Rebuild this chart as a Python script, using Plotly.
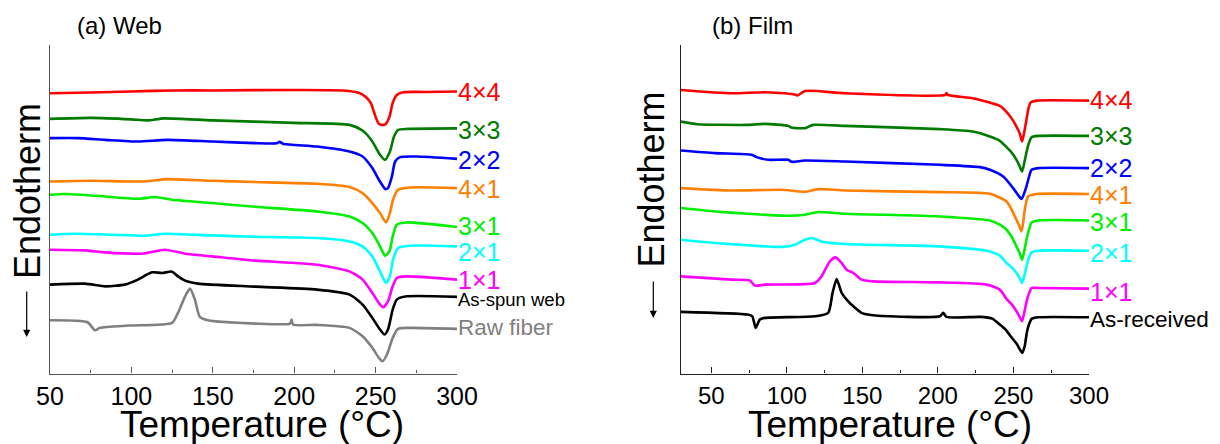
import plotly.graph_objects as go

# ---------------- (a) Web : DSC curves (heat flow, arbitrary offset units) ----------------
web_4x4_T = [50, 75, 100, 125, 150, 200, 230, 240, 244, 247, 250, 252, 254, 256, 258.5, 260.5, 263, 267, 280, 300]
web_4x4_Q = [280.7, 281.5, 282.5, 283.5, 283.5, 284, 283.5, 281, 277, 271, 257, 250, 249, 249.5, 257, 271, 279, 281.7, 282, 282.5]

web_3x3_T = [50, 75, 100, 110, 120, 150, 200, 234, 242, 248, 252.7, 255.8, 258.8, 261.3, 263.8, 270, 300]
web_3x3_Q = [255, 256, 254.5, 253.5, 255.5, 253.5, 251, 249, 243.3, 232.3, 219, 214, 222.3, 237.3, 244, 245, 245.5]

web_2x2_T = [50, 67, 84, 104, 122, 150, 176, 189, 191, 193, 214, 234, 242, 248, 252, 256, 257.6, 260, 262, 265, 275, 300]
web_2x2_Q = [235.7, 235.7, 234, 232.3, 234, 232.3, 230.7, 230.5, 232, 230.2, 227.3, 222.3, 217.3, 205.7, 194, 184.7, 185.7, 197.3, 212.3, 216.7, 217.3, 215]

web_4x1_T = [50, 75, 108, 122, 150, 176, 214, 234, 242, 248, 252.7, 256.4, 258.8, 260.7, 263.8, 271, 300]
web_4x1_Q = [192.3, 193, 192.3, 194.7, 193, 191.8, 190, 186.7, 180.7, 170.7, 160.7, 151.3, 160.7, 174, 184, 186.3, 185.7]

web_3x1_T = [50, 59, 77.6, 104, 114.5, 125, 149.5, 176, 214, 234, 242, 248, 252.7, 255.8, 258.5, 260.5, 263, 269, 300]
web_3x1_Q = [179, 179.7, 178, 175, 176.7, 174, 170.7, 167, 162.3, 157.3, 150.7, 140.7, 127.3, 118, 122.3, 137.3, 149, 151.3, 146.7]

web_2x1_T = [50, 65, 88, 108, 120.6, 149.5, 176, 214, 234, 242, 248, 252.7, 256.4, 258.8, 260.7, 263.8, 271, 300]
web_2x1_Q = [139, 140, 139, 138, 140, 138.3, 137, 135.7, 132.3, 127.3, 117.3, 102.3, 90.7, 97.3, 114, 125.7, 128, 127.3]

web_1x1_T = [50, 71.5, 84, 106.5, 120.6, 133, 149.5, 176, 214, 234, 242, 248, 252, 254.6, 257.6, 260.5, 263, 269, 300]
web_1x1_Q = [124, 123.3, 121.3, 120, 124, 120, 117.3, 113, 109, 102.3, 94, 80.7, 70.7, 66.3, 72.3, 87.3, 95.7, 97.3, 94]

web_asspun_T = [50, 71.5, 84, 96, 104, 112.6, 118.8, 125, 128.6, 133, 141, 176, 214, 234, 242, 248, 252.7, 255.5, 257.6, 260.5, 263, 269, 300]
web_asspun_Q = [89, 90, 87.3, 89, 94, 101.3, 100.7, 102, 97.3, 93, 90, 87, 84, 79, 69, 55.7, 44, 39, 44, 64, 74, 77.3, 76.7]

web_raw_T = [50, 73, 77.6, 80.7, 98, 125, 128.6, 133, 136, 139, 142, 147, 176, 197.4, 198.4, 199.3, 214, 234, 242, 248, 252, 254.3, 257, 260.5, 263.8, 271, 300]
web_raw_Q = [53.3, 51.3, 43.3, 45.7, 48, 50.7, 60.7, 77.3, 85, 74, 56.7, 53.3, 50, 50, 54, 49, 48.7, 45.7, 37.3, 25.7, 15.7, 12.3, 19, 35.7, 44.7, 45.7, 44.7]

web_names = ["4×4", "3×3", "2×2", "4×1", "3×1", "2×1", "1×1", "As-spun web", "Raw fiber"]
web_label_Q = [282, 244, 214, 185, 148, 122, 93.5, 74, 46]

# ---------------- (b) Film ----------------
film_4x4_T = [30, 63.5, 85.6, 104.3, 107.2, 112, 138.5, 205, 205.7, 206.5, 223, 234.4, 241, 245.4, 249, 252, 254.3, 255.7, 257.2, 258.6, 260, 261.5, 265.3, 300]
film_4x4_Q = [284, 280.7, 281.7, 279.7, 278.5, 283, 280.7, 279, 281, 279, 275.7, 271.3, 268, 262, 255, 247.3, 240, 232.3, 242, 254, 266, 271.5, 273.3, 273.3]

film_3x3_T = [30, 41, 74, 85.6, 101, 103, 112, 117.5, 138.5, 201.3, 223, 234.4, 241, 245.4, 249, 252, 254, 255.7, 257.3, 259, 260.5, 262, 266.4, 300]
film_3x3_Q = [252.3, 249.7, 249, 250, 248, 246.3, 245.7, 249, 248, 244.7, 242.3, 237.3, 233, 226.7, 221, 214, 208, 202.3, 212, 224, 232, 236.7, 238, 238]

film_2x2_T = [30, 52.5, 76.8, 80, 87.7, 101, 103.2, 112, 138.5, 201.3, 227.8, 234.4, 243.2, 249.8, 252.5, 255.3, 257, 258.6, 260.3, 262, 266.4, 300]
film_2x2_Q = [223.3, 220.7, 219, 216.7, 214, 214, 212, 213.3, 212.3, 209, 206.7, 204, 197.3, 185.7, 180, 174.7, 180, 187.3, 197, 204, 205.7, 205.7]

film_4x1_T = [30, 63.5, 96.6, 112, 120.8, 138.5, 201.3, 234.4, 245.4, 248.5, 250.9, 253.3, 255.3, 256.5, 257.5, 259.7, 265.3, 300]
film_4x1_Q = [185.7, 183.3, 184, 182, 184.7, 183.3, 181.7, 180, 172.3, 165, 157.3, 150, 142.3, 152, 164, 177.3, 179.7, 179.7]

film_3x1_T = [30, 52.5, 74, 101, 112, 120.8, 138.5, 201.3, 234.4, 241, 245.4, 249, 252, 254, 255.7, 257.2, 258.6, 260.3, 262, 266.4, 300]
film_3x1_Q = [165.7, 162.3, 160, 158, 159, 161.7, 160, 157.3, 153.3, 149, 144, 136.5, 127.3, 121, 114, 123, 134, 144, 151.3, 153.3, 153.3]

film_2x1_T = [30, 52.5, 85.6, 96.6, 105.4, 112, 116.4, 123, 138.5, 201.3, 234.4, 241, 245.4, 249, 252, 254, 255.7, 257.2, 258.6, 260.3, 262, 266.4, 300]
film_2x1_Q = [134, 130.7, 127.3, 126.7, 129, 134, 135.7, 132.3, 129.7, 127.3, 122.3, 118, 110.7, 106, 100.7, 96, 90.7, 98, 107.3, 116, 121.3, 123, 123]

film_1x1_T = [30, 63.5, 75.6, 78.9, 85.6, 118.6, 123, 128.5, 132.3, 136.3, 139.6, 144, 149.5, 157.2, 201.3, 232.2, 241, 245.4, 249, 252, 254, 255.7, 257.3, 259, 260.5, 262, 266.4, 300]
film_1x1_Q = [97.3, 94, 93, 88, 89, 90.7, 97.3, 112.3, 116.3, 110.7, 104, 100.7, 94, 92.3, 91.3, 89, 84, 74.7, 69, 62.3, 57, 52.3, 62, 74, 81, 85.7, 85.7, 85]

film_asrec_T = [30, 74, 77.2, 79.4, 82.2, 85.6, 118.6, 127.4, 130.3, 133, 136.3, 139.6, 144, 149.5, 157.2, 201.3, 203.5, 205.7, 227.8, 236, 241, 245.4, 248, 252, 254.3, 255.8, 257.4, 259, 260.5, 262, 266.4, 300]
film_asrec_Q = [61.7, 59, 57.3, 45.7, 54, 55.7, 57.3, 60.7, 80.7, 94.7, 80.7, 74, 67.3, 60.7, 58.3, 57.3, 60.7, 56.7, 56.7, 55, 49, 43, 37.5, 30, 24, 20.5, 27, 42, 50, 54.7, 56.3, 56.3]

film_names = ["4×4", "3×3", "2×2", "4×1", "3×1", "2×1", "1×1", "As-received"]
film_label_Q = [273.5, 238, 205.5, 179, 151.5, 120.5, 82, 54]

web_colors = ["#ff0000", "#007a00", "#0000ff", "#ff8000", "#00ee00", "#00ffff", "#ff00ff", "#000000", "#808080"]
film_colors = ["#ff0000", "#007a00", "#0000ff", "#ff8000", "#00ee00", "#00ffff", "#ff00ff", "#000000"]

web_series = [(web_4x4_T, web_4x4_Q), (web_3x3_T, web_3x3_Q), (web_2x2_T, web_2x2_Q),
              (web_4x1_T, web_4x1_Q), (web_3x1_T, web_3x1_Q), (web_2x1_T, web_2x1_Q),
              (web_1x1_T, web_1x1_Q), (web_asspun_T, web_asspun_Q), (web_raw_T, web_raw_Q)]
film_series = [(film_4x4_T, film_4x4_Q), (film_3x3_T, film_3x3_Q), (film_2x2_T, film_2x2_Q),
               (film_4x1_T, film_4x1_Q), (film_3x1_T, film_3x1_Q), (film_2x1_T, film_2x1_Q),
               (film_1x1_T, film_1x1_Q), (film_asrec_T, film_asrec_Q)]

FONT = "Liberation Sans, Arial, Helvetica, sans-serif"
W, H = 1220, 444


def px(xp):
    return xp / W


def py(yp):
    return (H - yp) / H


fig = go.Figure()

for (T, Q), name, c in zip(web_series, web_names, web_colors):
    fig.add_trace(go.Scatter(x=T, y=Q, mode="lines", name=name, xaxis="x", yaxis="y",
                             line=dict(color=c, width=2.6, shape="spline", smoothing=0.6),
                             showlegend=False, hoverinfo="skip"))
for (T, Q), name, c in zip(film_series, film_names, film_colors):
    fig.add_trace(go.Scatter(x=T, y=Q, mode="lines", name=name, xaxis="x2", yaxis="y2",
                             line=dict(color=c, width=2.6, shape="spline", smoothing=0.6),
                             showlegend=False, hoverinfo="skip"))

annotations = []
web_label_sizes = [25, 25, 25, 25, 25, 25, 25, 18.5, 22.5]
for name, c, q, s in zip(web_names, web_colors, web_label_Q, web_label_sizes):
    annotations.append(dict(x=300, y=q, xref="x", yref="y", text=name, showarrow=False,
                            xanchor="left", yanchor="middle", xshift=-1,
                            font=dict(family=FONT, size=s, color=c)))
film_label_sizes = [25, 25, 25, 25, 25, 25, 25, 22.5]
for name, c, q, s in zip(film_names, film_colors, film_label_Q, film_label_sizes):
    annotations.append(dict(x=300, y=q, xref="x2", yref="y2", text=name, showarrow=False,
                            xanchor="left", yanchor="middle", xshift=-1,
                            font=dict(family=FONT, size=s, color=c)))

# panel titles
annotations.append(dict(x=px(119), y=py(26), xref="paper", yref="paper", text="(a) Web",
                        showarrow=False, xanchor="center", yanchor="middle",
                        font=dict(family=FONT, size=24, color="black")))
annotations.append(dict(x=px(752), y=py(26), xref="paper", yref="paper", text="(b) Film",
                        showarrow=False, xanchor="center", yanchor="middle",
                        font=dict(family=FONT, size=24, color="black")))
# x-axis titles
for cx in (262, 890):
    annotations.append(dict(x=px(cx), y=py(424), xref="paper", yref="paper",
                            text="Temperature (°C)", showarrow=False,
                            xanchor="center", yanchor="middle",
                            font=dict(family=FONT, size=37, color="black")))
# y-axis titles
for cx, cy in ((27.5, 191.5), (651.5, 180)):
    annotations.append(dict(x=px(cx), y=py(cy), xref="paper", yref="paper",
                            text="Endotherm", textangle=-90, showarrow=False,
                            xanchor="center", yanchor="middle",
                            font=dict(family=FONT, size=36, color="black")))
# downward arrows
for ax_, y0, y1 in ((26.7, 290, 337), (653.3, 280, 318)):
    annotations.append(dict(x=px(ax_), y=py(y1), xref="paper", yref="paper",
                            ax=0, ay=-(y1 - y0),
                            text="", showarrow=True, arrowhead=2, arrowsize=1.2,
                            arrowwidth=1.2, arrowcolor="black"))

xaxis_common = dict(showgrid=False, zeroline=False, showline=True, linewidth=1.4,
                    ticks="inside", ticklen=6, tickwidth=1.2, dtick=50, tick0=0,
                    minor=dict(ticks="inside", ticklen=3, tickwidth=1.1, dtick=25, tick0=0,
                               showgrid=False),
                    ticklabelstandoff=0, automargin=False)

yaxis_common = dict(showgrid=False, zeroline=False, showline=True, linewidth=1.4,
                    showticklabels=False, ticks="", range=[0, 329], automargin=False,
                    domain=[py(373.5), py(45)])

fig.update_layout(
    width=W, height=H, margin=dict(l=0, r=0, t=0, b=0, pad=0, autoexpand=False),
    paper_bgcolor="white", plot_bgcolor="white",
    font=dict(family=FONT, color="black"),
    xaxis=dict(**xaxis_common,
               domain=[px(50), px(457)], range=[50, 300], anchor="y",
               linecolor="#555555", tickcolor="#555555",
               tickfont=dict(family=FONT, size=25, color="black")),
    yaxis=dict(**yaxis_common, anchor="x", linecolor="#555555"),
    xaxis2=dict(**xaxis_common,
                domain=[px(681), px(1089)], range=[30, 300], anchor="y2",
                linecolor="#222222", tickcolor="#222222",
                tickfont=dict(family=FONT, size=24, color="black")),
    yaxis2=dict(**yaxis_common, anchor="x2", linecolor="#222222"),
    annotations=annotations,
)

fig.write_html("out.html")
